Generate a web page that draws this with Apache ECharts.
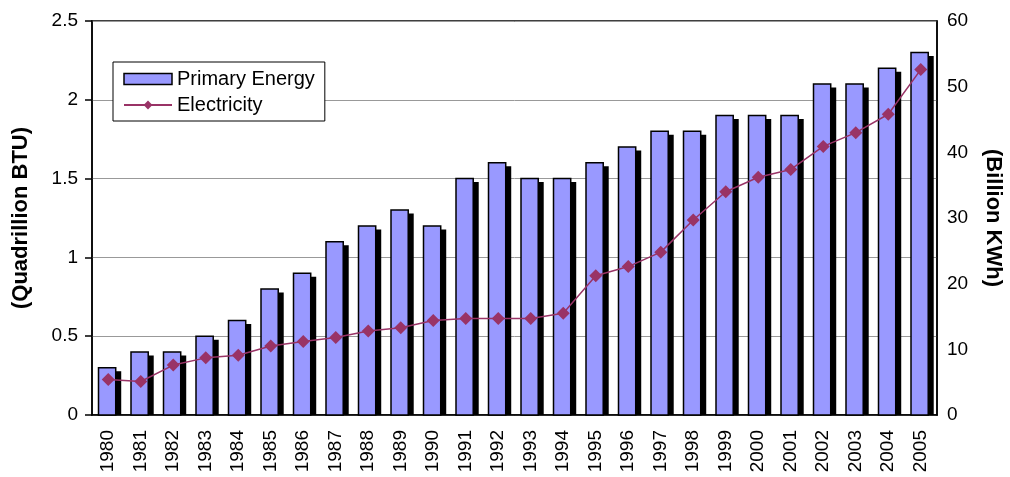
<!DOCTYPE html>
<html lang="en">
<head>
<meta charset="UTF-8">
<title>Primary Energy and Electricity</title>
<script src="https://cdn.jsdelivr.net/npm/echarts@6/dist/echarts.min.js"></script>
<style>
  html, body { margin: 0; padding: 0; background: #fff; }
  #main { width: 1010px; height: 477px; }
</style>
</head>
<body>
<div id="main"></div>
<script>
// years on the x axis
var years = ['1980','1981','1982','1983','1984','1985','1986','1987','1988','1989',
             '1990','1991','1992','1993','1994','1995','1996','1997','1998','1999',
             '2000','2001','2002','2003','2004','2005'];
// Quadrillion BTU (left axis)
var primaryEnergy = [0.3, 0.4, 0.4, 0.5, 0.6, 0.8, 0.9, 1.1, 1.2, 1.3,
                     1.2, 1.5, 1.6, 1.5, 1.5, 1.6, 1.7, 1.8, 1.8, 1.9,
                     1.9, 1.9, 2.1, 2.1, 2.2, 2.3];
// Billion KWh (right axis)
var electricity = [5.4, 5.1, 7.6, 8.7, 9.1, 10.5, 11.2, 11.8, 12.8, 13.3,
                   14.4, 14.7, 14.7, 14.7, 15.5, 21.2, 22.6, 24.8, 29.7, 34.0,
                   36.2, 37.4, 40.9, 43.0, 45.8, 52.6];

var font = 'Liberation Sans, Arial, sans-serif';
var barColor = '#9999ff';
var lineColor = '#993366';

var myChart = echarts.init(document.getElementById('main'));

// bar + black drop shadow, drawn from the axis scales
function renderBar(params, api) {
    var idx = api.value(0);
    var top = api.coord([idx, api.value(1)]);
    var base = api.coord([idx, 0]);
    var bw = api.size([1, 0])[0];
    var w = bw * 0.53;
    var x = top[0] - bw * 0.3;
    return {
        type: 'group',
        children: [{
            type: 'rect',
            shape: { x: x + 5.5, y: top[1] + 3.5, width: w, height: base[1] - top[1] - 3.5 },
            style: { fill: '#000' }
        }, {
            type: 'rect',
            shape: { x: x, y: top[1], width: w, height: base[1] - top[1] },
            style: { fill: barColor, stroke: '#000', lineWidth: 1.5 }
        }]
    };
}

var option = {
    animation: false,
    textStyle: { fontFamily: font },
    grid: {
        left: 92, right: 73, top: 21, bottom: 62,
        outerBoundsMode: 'none',
        containLabel: false,
        show: true, borderColor: '#000', borderWidth: 1.5
    },
    legend: {
        orient: 'vertical',
        left: 113, top: 62,
        backgroundColor: '#fff',
        borderColor: '#000', borderWidth: 1,
        padding: [7, 10, 6, 10],
        itemWidth: 48, itemHeight: 11, itemGap: 6,
        textStyle: { fontSize: 20, color: '#000', fontFamily: font },
        data: [
            { name: 'Primary Energy', icon: 'rect', itemStyle: { color: barColor, borderColor: '#000', borderWidth: 1.5 } },
            { name: 'Electricity' }
        ]
    },
    xAxis: {
        type: 'category',
        data: years,
        boundaryGap: true,
        axisLine: { lineStyle: { color: '#000', width: 1.5 } },
        axisTick: { length: 7, lineStyle: { color: '#000', width: 1.5 } },
        axisLabel: { rotate: 90, fontSize: 19, color: '#000', margin: 15, fontFamily: font }
    },
    yAxis: [{
        type: 'value',
        min: 0, max: 2.5, interval: 0.5,
        name: '(Quadrillion BTU)',
        nameLocation: 'middle', nameRotate: 90, nameGap: 60,
        nameTextStyle: { fontSize: 22, fontWeight: 'bold', color: '#000', fontFamily: font },
        axisLine: { show: true, lineStyle: { color: '#000', width: 1.5 } },
        axisTick: { show: true, length: 7, lineStyle: { color: '#000', width: 1.5 } },
        axisLabel: { fontSize: 19, color: '#000', margin: 14, fontFamily: font },
        splitLine: { lineStyle: { color: '#999', width: 1 } }
    }, {
        type: 'value',
        min: 0, max: 60, interval: 10,
        name: '(Billion KWh)',
        nameLocation: 'middle', nameRotate: -90, nameGap: 45,
        nameTextStyle: { fontSize: 22, fontWeight: 'bold', color: '#000', fontFamily: font },
        axisLine: { show: true, lineStyle: { color: '#000', width: 1.5 } },
        axisTick: { show: false },
        axisLabel: { fontSize: 19, color: '#000', margin: 10, fontFamily: font },
        splitLine: { show: false }
    }],
    series: [{
        name: 'Primary Energy',
        type: 'custom',
        yAxisIndex: 0,
        renderItem: renderBar,
        itemStyle: { color: barColor },
        encode: { x: 0, y: 1 },
        data: primaryEnergy.map(function (v, i) { return [i, v]; }),
        z: 2
    }, {
        name: 'Electricity',
        type: 'line',
        yAxisIndex: 1,
        data: electricity,
        symbol: 'diamond',
        symbolSize: 13,
        itemStyle: { color: lineColor },
        lineStyle: { color: lineColor, width: 1.5 },
        z: 5
    }]
};

myChart.setOption(option);
</script>
</body>
</html>
